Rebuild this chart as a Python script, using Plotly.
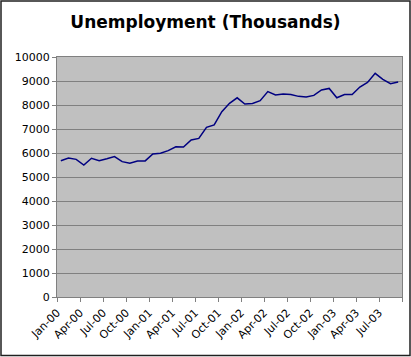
import plotly.graph_objects as go
import pandas as pd

title = "Unemployment (Thousands)"
months = pd.date_range("2000-01-01", periods=45, freq="MS")
month_labels = [d.strftime("%b-%y") for d in months]
unemployment = [5680, 5790, 5735, 5500, 5780, 5680, 5760, 5850, 5640, 5570,
                5670, 5670, 5960, 5990, 6100, 6260, 6250, 6540, 6610, 7070,
                7170, 7720, 8070, 8300, 8040, 8060, 8180, 8560, 8420, 8460,
                8440, 8360, 8330, 8400, 8625, 8690, 8300, 8440, 8440, 8750,
                8940, 9320, 9070, 8890, 8960]
y_ticks = list(range(0, 10001, 1000))
y_tick_text = [str(v) for v in y_ticks]

xi = list(range(len(month_labels)))
tick_idx = list(range(0, len(month_labels) + 1, 3))
tick_pos = [i - 0.5 for i in tick_idx]
tick_text = [month_labels[i] if i < len(month_labels) else "" for i in tick_idx]

fig = go.Figure()
fig.add_trace(go.Scatter(x=xi, y=unemployment, mode="lines",
                         line=dict(color="#000080", width=1.5), hoverinfo="skip"))

L, R, T, B = 57, 9, 57, 60
W, H = 411, 357
pw, ph = W - L - R, H - T - B

fig.update_layout(
    width=W, height=H,
    margin=dict(l=L, r=R, t=T, b=B),
    paper_bgcolor="white", plot_bgcolor="#C0C0C0",
    showlegend=False,
    font=dict(family="DejaVu Sans", size=11, color="black"),
    title=dict(text="<b>" + title + "</b>", x=0.5, xref="container", xanchor="center",
               y=1 - 22 / H, yanchor="middle",
               font=dict(family="DejaVu Sans", size=17, color="black")),
    xaxis=dict(range=[-0.5, len(month_labels) - 0.5], tickmode="array",
               tickvals=tick_pos, ticktext=tick_text, tickangle=-45,
               showgrid=False, zeroline=False, showline=True, mirror=True,
               linecolor="#808080", linewidth=1,
               ticks="outside", ticklen=4, tickcolor="#808080",
               tickfont=dict(size=11)),
    yaxis=dict(range=[0, 10000], tickmode="array", tickvals=y_ticks,
               ticktext=y_tick_text,
               showgrid=True, gridcolor="#808080", gridwidth=1,
               zeroline=False, showline=True, mirror=True,
               linecolor="#808080", linewidth=1,
               ticks="outside", ticklen=4, tickcolor="#808080",
               tickfont=dict(size=11)),
)

# outer chart border
fig.add_shape(type="rect", xref="paper", yref="paper",
              x0=(1 - L) / pw, x1=(W - 1 - L) / pw,
              y0=(H - B - (H - 1.5)) / ph, y1=(H - B - 1) / ph,
              line=dict(color="#202020", width=1.5), fillcolor="rgba(0,0,0,0)")

fig.write_html("out.html", config={"displayModeBar": False},
               post_script="document.body.style.margin='0';document.body.style.overflow='hidden';")
